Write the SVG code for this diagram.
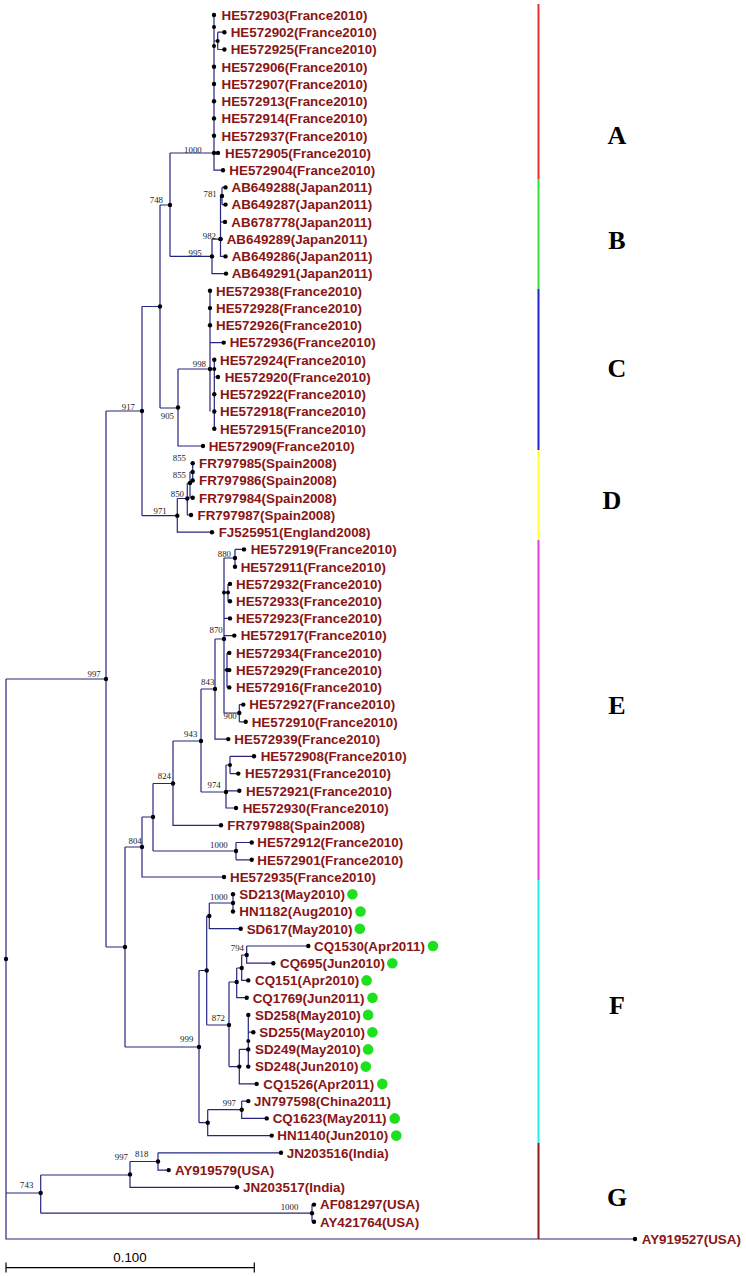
<svg xmlns="http://www.w3.org/2000/svg" width="746" height="1276" viewBox="0 0 746 1276">
<style>
.t{font-family:"Liberation Sans",Arial,sans-serif;font-weight:bold;font-size:13.4px;fill:#8a1515}
.b{font-family:"Liberation Serif","Times New Roman",serif;font-size:8.8px;fill:#222;text-anchor:end}
.br{fill:none;stroke:#262680;stroke-width:1.2}
.d{fill:#000}
.g{fill:#1fe01f}
.cl{font-family:"Liberation Serif","Times New Roman",serif;font-weight:bold;font-size:26px;fill:#000;text-anchor:middle}
.sc{font-family:"Liberation Sans",Arial,sans-serif;font-size:13.3px;fill:#000;text-anchor:middle}
.bar{fill:none;stroke-width:2}
</style>
<rect width="746" height="1276" fill="#fff"/>
<g id="connectors" class="br">
<path d="M6,679 V1239 H635 M6,679 H106 M6,1193 H40.7
M106,411 V947 M106,411 H142 M142,306.5 V515.7 M142,306.5 H160 M160,205 V408 M160,205 H170 M170,153 V256.4 M170,153 H214
M214,15 V170.2 H223 M214,41 H217.7 M217.7,32.2 V49.5 M217.7,32.2 H224.4 M217.7,49.5 H224.4 M214,152.9 H218
M170,256.4 H212 M212,239.1 V273.6 H226 M212,239.1 H220.5 M220.5,196 V256.4 H225.5 M220.5,196 H222 M222,187.4 V204.6 M222,187.4 H225.5 M222,204.6 H225.5 M220.5,221.9 H225
M160,408 H178 M178,369 V446 H203 M178,369 H210 M210,290.8 V411.5 M210,342.6 H223.7 M210,369 H214.3 M214.3,359.8 V428.8 M214.3,377 H218
M142,515.7 H177.3 M177.3,498.5 V532.2 H212 M177.3,498.5 H187.3 M187.3,483 V515 H191 M187.3,483 H190 M190,472 V497.7 H192.7 M190,472 H192.7 M192.7,463.2 V480.5
M106,947 H125 M125,847 V1047 M125,847 H142 M142,817 V877 H224 M142,817 H153 M153,783.5 V851 M153,851 H236 M236,842.5 V859.8 M236,842.5 H251.7 M236,859.8 H251.7
M153,783.5 H173 M173,741 V825.3 H221 M173,741 H201 M201,689 V792 M201,689 H215 M215,639 V739.1 H228.3 M215,639 H224
M224,558 V713 H239.3 M224,558 H235 M235,549.4 V566.7 M235,549.4 H244 M224,592.5 H228 M228,583.9 V601.2 M228,583.9 H230 M228,601.2 H230 M224,618.4 H230 M224,635.6 H234.3
M224,670 H227 M227,652.9 V687.4 M227,652.9 H229.3 M227,670.1 H229.3 M227,687.4 H229.3 M239.3,704.6 V721.8 M239.3,704.6 H243.3 M239.3,721.8 H245.7
M201,792 H226 M226,765 V808 H236 M226,765 H230 M230,756.3 V773.6 M230,756.3 H254 M230,773.6 H238.3 M226,790.8 H239.3
M125,1047 H199 M199,970.5 V1122.7 M199,970.5 H206.7 M206.7,916 V1025 M206.7,916 H209.3 M209.3,903 V928.7 H240.7 M209.3,903 H233 M233,894.2 V911.5
M206.7,1025 H229 M229,982 V1066.6 M229,982 H236.7 M236.7,968 V997.7 H246.7 M236.7,968 H241.7 M241.7,955 V980.4 H248.3 M241.7,955 H246.7 M246.7,946 V963.2 H273.3 M246.7,946 H308.3
M229,1066.6 H239.3 M239.3,1049.4 V1083.9 H256.7 M239.3,1049.4 H248.3 M248.3,1014.9 V1066.6 M248.3,1032.2 H253.3
M199,1122.7 H207.7 M207.7,1109.7 V1135.6 H271.7 M207.7,1109.7 H241.7 M241.7,1101.1 V1118.4 H266.7 M241.7,1101.1 H248.3
M40.7,1175 V1213.2 M40.7,1175 H130 M130,1161.5 V1187.3 H237 M130,1161.5 H158 M158,1152.8 V1170.1 H168.7 M158,1152.8 H281 M40.7,1213.2 H312 M312,1204.6 V1221.8 M312,1204.6 H314 M312,1221.8 H314"/>
</g>
<g id="internal-nodes">
<g id="n-root"><circle class="d" cx="6" cy="959" r="2.2"/></g>
<g id="n997a"><circle class="d" cx="106" cy="679" r="2.2"/><text class="b" x="100.7" y="676.7">997</text></g>
<g id="n917"><circle class="d" cx="142" cy="411" r="2.2"/><text class="b" x="135" y="410">917</text></g>
<g id="nAB"><circle class="d" cx="160" cy="306.5" r="2.2"/></g>
<g id="n748"><circle class="d" cx="170" cy="205" r="2.2"/><text class="b" x="163" y="203">748</text></g>
<g id="n1000a"><circle class="d" cx="214" cy="152.9" r="2.2"/><text class="b" x="201.7" y="152.5">1000</text></g>
<g id="nA2"><circle class="d" cx="214" cy="27" r="2"/><circle class="d" cx="214" cy="46" r="2"/><circle class="d" cx="217.7" cy="41" r="2"/></g>
<g id="n995"><circle class="d" cx="212" cy="256.4" r="2.2"/><text class="b" x="201.7" y="255.7">995</text></g>
<g id="n982"><circle class="d" cx="220.5" cy="239.1" r="2.2"/><text class="b" x="216" y="239">982</text></g>
<g id="n781"><circle class="d" cx="222" cy="196" r="2.2"/><text class="b" x="216.7" y="196.7">781</text></g>
<g id="n905"><circle class="d" cx="178" cy="407.5" r="2.2"/><text class="b" x="174" y="419.3">905</text></g>
<g id="n998"><circle class="d" cx="210" cy="369" r="2.2"/><circle class="d" cx="214.3" cy="369" r="2"/><text class="b" x="206" y="367.3">998</text></g>
<g id="n971"><circle class="d" cx="177.3" cy="515.7" r="2.2"/><text class="b" x="166.7" y="514">971</text></g>
<g id="n850"><circle class="d" cx="187.3" cy="498.5" r="2.2"/><text class="b" x="184" y="496.7">850</text></g>
<g id="n855b"><circle class="d" cx="190" cy="483" r="2.2"/><text class="b" x="186" y="478.3">855</text></g>
<g id="n855a"><circle class="d" cx="192.7" cy="472" r="2.2"/><text class="b" x="186" y="461">855</text></g>
<g id="nR"><circle class="d" cx="125" cy="947" r="2.2"/></g>
<g id="n804"><circle class="d" cx="142" cy="847" r="2.2"/><text class="b" x="141.7" y="844">804</text></g>
<g id="nQ"><circle class="d" cx="153" cy="817" r="2.2"/></g>
<g id="n1000e"><circle class="d" cx="236" cy="851" r="2.2"/><text class="b" x="227.7" y="848.3">1000</text></g>
<g id="n824"><circle class="d" cx="173" cy="783.5" r="2.2"/><text class="b" x="171" y="779.3">824</text></g>
<g id="n943"><circle class="d" cx="201" cy="741" r="2.2"/><text class="b" x="197.3" y="736.7">943</text></g>
<g id="n843"><circle class="d" cx="215" cy="689" r="2.2"/><text class="b" x="214.3" y="685">843</text></g>
<g id="n870"><circle class="d" cx="224" cy="639" r="2.2"/><text class="b" x="222.7" y="633.3">870</text></g>
<g id="n880"><circle class="d" cx="235" cy="558" r="2.2"/><text class="b" x="231" y="556.7">880</text></g>
<g id="nE2"><circle class="d" cx="224" cy="592.5" r="2"/><circle class="d" cx="228" cy="592.5" r="2"/><circle class="d" cx="227" cy="670" r="2"/></g>
<g id="n900"><circle class="d" cx="239.3" cy="713" r="2.2"/><text class="b" x="236.7" y="719.3">900</text></g>
<g id="n974"><circle class="d" cx="226" cy="792" r="2.2"/><circle class="d" cx="230" cy="765" r="2"/><text class="b" x="220.7" y="788.3">974</text></g>
<g id="n999"><circle class="d" cx="199" cy="1047" r="2.2"/><text class="b" x="193.3" y="1041.7">999</text></g>
<g id="nF1"><circle class="d" cx="206.7" cy="970.5" r="2.2"/><circle class="d" cx="209.3" cy="916" r="2.2"/></g>
<g id="n1000f"><circle class="d" cx="233" cy="903" r="2.2"/><text class="b" x="227.7" y="900">1000</text></g>
<g id="n872"><circle class="d" cx="229" cy="1025" r="2.2"/><text class="b" x="225" y="1020.7">872</text></g>
<g id="nF2"><circle class="d" cx="236.7" cy="982" r="2.2"/><circle class="d" cx="241.7" cy="968" r="2.2"/><circle class="d" cx="239.3" cy="1066.6" r="2.2"/><circle class="d" cx="248.3" cy="1041" r="2"/></g>
<g id="n794"><circle class="d" cx="246.7" cy="955" r="2.2"/><text class="b" x="244" y="951">794</text></g>
<g id="nF3"><circle class="d" cx="207.7" cy="1122.7" r="2.2"/></g>
<g id="n997f"><circle class="d" cx="241.7" cy="1109.7" r="2.2"/><text class="b" x="236" y="1105.7">997</text></g>
<g id="n743"><circle class="d" cx="40.7" cy="1193" r="2.2"/><text class="b" x="33.3" y="1188.3">743</text></g>
<g id="n997g"><circle class="d" cx="130" cy="1174.4" r="2.2"/><text class="b" x="128" y="1159.5">997</text></g>
<g id="n818"><circle class="d" cx="158" cy="1161.5" r="2.2"/><text class="b" x="148.3" y="1157.3">818</text></g>
<g id="n1000g"><circle class="d" cx="312" cy="1213.2" r="2.2"/><text class="b" x="298.3" y="1210">1000</text></g>
</g>
<g id="leaves">
<g id="l0"><circle class="d" cx="214" cy="15" r="2.2"/><text class="t" x="221.5" y="19.8">HE572903(France2010)</text></g>
<g id="l1"><circle class="d" cx="224.4" cy="32.2" r="2.2"/><text class="t" x="230.7" y="37">HE572902(France2010)</text></g>
<g id="l2"><circle class="d" cx="224.4" cy="49.5" r="2.2"/><text class="t" x="230.7" y="54.3">HE572925(France2010)</text></g>
<g id="l3"><circle class="d" cx="214" cy="66.7" r="2.2"/><text class="t" x="221.5" y="71.5">HE572906(France2010)</text></g>
<g id="l4"><circle class="d" cx="214" cy="84" r="2.2"/><text class="t" x="221.5" y="88.8">HE572907(France2010)</text></g>
<g id="l5"><circle class="d" cx="214" cy="101.2" r="2.2"/><text class="t" x="221.5" y="106">HE572913(France2010)</text></g>
<g id="l6"><circle class="d" cx="214" cy="118.4" r="2.2"/><text class="t" x="221.5" y="123.2">HE572914(France2010)</text></g>
<g id="l7"><circle class="d" cx="214" cy="135.7" r="2.2"/><text class="t" x="221.5" y="140.5">HE572937(France2010)</text></g>
<g id="l8"><circle class="d" cx="218" cy="152.9" r="2.2"/><text class="t" x="225" y="157.7">HE572905(France2010)</text></g>
<g id="l9"><circle class="d" cx="223" cy="170.2" r="2.2"/><text class="t" x="229.3" y="175">HE572904(France2010)</text></g>
<g id="l10"><circle class="d" cx="225.5" cy="187.4" r="2.2"/><text class="t" x="231.5" y="192.2">AB649288(Japan2011)</text></g>
<g id="l11"><circle class="d" cx="225.5" cy="204.6" r="2.2"/><text class="t" x="231.5" y="209.4">AB649287(Japan2011)</text></g>
<g id="l12"><circle class="d" cx="225" cy="221.9" r="2.2"/><text class="t" x="231.3" y="226.7">AB678778(Japan2011)</text></g>
<g id="l13"><circle class="d" cx="220.5" cy="239.1" r="2.2"/><text class="t" x="226.7" y="243.9">AB649289(Japan2011)</text></g>
<g id="l14"><circle class="d" cx="225.5" cy="256.4" r="2.2"/><text class="t" x="231.7" y="261.2">AB649286(Japan2011)</text></g>
<g id="l15"><circle class="d" cx="226" cy="273.6" r="2.2"/><text class="t" x="231.7" y="278.4">AB649291(Japan2011)</text></g>
<g id="l16"><circle class="d" cx="210" cy="290.8" r="2.2"/><text class="t" x="216" y="295.6">HE572938(France2010)</text></g>
<g id="l17"><circle class="d" cx="210" cy="308.1" r="2.2"/><text class="t" x="216" y="312.9">HE572928(France2010)</text></g>
<g id="l18"><circle class="d" cx="210" cy="325.3" r="2.2"/><text class="t" x="216" y="330.1">HE572926(France2010)</text></g>
<g id="l19"><circle class="d" cx="223.7" cy="342.6" r="2.2"/><text class="t" x="229.7" y="347.4">HE572936(France2010)</text></g>
<g id="l20"><circle class="d" cx="214.3" cy="359.8" r="2.2"/><text class="t" x="220" y="364.6">HE572924(France2010)</text></g>
<g id="l21"><circle class="d" cx="218" cy="377" r="2.2"/><text class="t" x="224.7" y="381.8">HE572920(France2010)</text></g>
<g id="l22"><circle class="d" cx="214.3" cy="394.3" r="2.2"/><text class="t" x="220" y="399.1">HE572922(France2010)</text></g>
<g id="l23"><circle class="d" cx="214.3" cy="411.5" r="2.2"/><text class="t" x="220" y="416.3">HE572918(France2010)</text></g>
<g id="l24"><circle class="d" cx="214.3" cy="428.8" r="2.2"/><text class="t" x="220" y="433.6">HE572915(France2010)</text></g>
<g id="l25"><circle class="d" cx="203" cy="446" r="2.2"/><text class="t" x="208.7" y="450.8">HE572909(France2010)</text></g>
<g id="l26"><circle class="d" cx="192.7" cy="463.2" r="2.2"/><text class="t" x="199" y="468">FR797985(Spain2008)</text></g>
<g id="l27"><circle class="d" cx="192.7" cy="480.5" r="2.2"/><text class="t" x="199" y="485.3">FR797986(Spain2008)</text></g>
<g id="l28"><circle class="d" cx="192.7" cy="497.7" r="2.2"/><text class="t" x="199" y="502.5">FR797984(Spain2008)</text></g>
<g id="l29"><circle class="d" cx="191" cy="515" r="2.2"/><text class="t" x="197.5" y="519.8">FR797987(Spain2008)</text></g>
<g id="l30"><circle class="d" cx="212" cy="532.2" r="2.2"/><text class="t" x="218.7" y="537">FJ525951(England2008)</text></g>
<g id="l31"><circle class="d" cx="244" cy="549.4" r="2.2"/><text class="t" x="250.7" y="554.2">HE572919(France2010)</text></g>
<g id="l32"><circle class="d" cx="235" cy="566.7" r="2.2"/><text class="t" x="240.7" y="571.5">HE572911(France2010)</text></g>
<g id="l33"><circle class="d" cx="230" cy="583.9" r="2.2"/><text class="t" x="236" y="588.7">HE572932(France2010)</text></g>
<g id="l34"><circle class="d" cx="230" cy="601.2" r="2.2"/><text class="t" x="236" y="606">HE572933(France2010)</text></g>
<g id="l35"><circle class="d" cx="230" cy="618.4" r="2.2"/><text class="t" x="236" y="623.2">HE572923(France2010)</text></g>
<g id="l36"><circle class="d" cx="234.3" cy="635.6" r="2.2"/><text class="t" x="240.7" y="640.4">HE572917(France2010)</text></g>
<g id="l37"><circle class="d" cx="229.3" cy="652.9" r="2.2"/><text class="t" x="236" y="657.7">HE572934(France2010)</text></g>
<g id="l38"><circle class="d" cx="229.3" cy="670.1" r="2.2"/><text class="t" x="236" y="674.9">HE572929(France2010)</text></g>
<g id="l39"><circle class="d" cx="229.3" cy="687.4" r="2.2"/><text class="t" x="236" y="692.2">HE572916(France2010)</text></g>
<g id="l40"><circle class="d" cx="243.3" cy="704.6" r="2.2"/><text class="t" x="249.3" y="709.4">HE572927(France2010)</text></g>
<g id="l41"><circle class="d" cx="245.7" cy="721.8" r="2.2"/><text class="t" x="251.7" y="726.6">HE572910(France2010)</text></g>
<g id="l42"><circle class="d" cx="228.3" cy="739.1" r="2.2"/><text class="t" x="234.3" y="743.9">HE572939(France2010)</text></g>
<g id="l43"><circle class="d" cx="254" cy="756.3" r="2.2"/><text class="t" x="260.7" y="761.1">HE572908(France2010)</text></g>
<g id="l44"><circle class="d" cx="238.3" cy="773.6" r="2.2"/><text class="t" x="245" y="778.4">HE572931(France2010)</text></g>
<g id="l45"><circle class="d" cx="239.3" cy="790.8" r="2.2"/><text class="t" x="246" y="795.6">HE572921(France2010)</text></g>
<g id="l46"><circle class="d" cx="236" cy="808" r="2.2"/><text class="t" x="242.7" y="812.8">HE572930(France2010)</text></g>
<g id="l47"><circle class="d" cx="221" cy="825.3" r="2.2"/><text class="t" x="227.3" y="830.1">FR797988(Spain2008)</text></g>
<g id="l48"><circle class="d" cx="251.7" cy="842.5" r="2.2"/><text class="t" x="257.3" y="847.3">HE572912(France2010)</text></g>
<g id="l49"><circle class="d" cx="251.7" cy="859.8" r="2.2"/><text class="t" x="257.3" y="864.6">HE572901(France2010)</text></g>
<g id="l50"><circle class="d" cx="224" cy="877" r="2.2"/><text class="t" x="230" y="881.8">HE572935(France2010)</text></g>
<g id="l51"><circle class="d" cx="233" cy="894.2" r="2.2"/><text class="t" x="239.3" y="899">SD213(May2010)</text><circle class="g" cx="352.4" cy="894.2" r="5.3"/></g>
<g id="l52"><circle class="d" cx="233" cy="911.5" r="2.2"/><text class="t" x="239.3" y="916.3">HN1182(Aug2010)</text><circle class="g" cx="360.5" cy="911.5" r="5.3"/></g>
<g id="l53"><circle class="d" cx="240.7" cy="928.7" r="2.2"/><text class="t" x="246.7" y="933.5">SD617(May2010)</text><circle class="g" cx="359.8" cy="928.7" r="5.3"/></g>
<g id="l54"><circle class="d" cx="308.3" cy="946" r="2.2"/><text class="t" x="314" y="950.8">CQ1530(Apr2011)</text><circle class="g" cx="433" cy="946" r="5.3"/></g>
<g id="l55"><circle class="d" cx="273.3" cy="963.2" r="2.2"/><text class="t" x="280" y="968">CQ695(Jun2010)</text><circle class="g" cx="392.3" cy="963.2" r="5.3"/></g>
<g id="l56"><circle class="d" cx="248.3" cy="980.4" r="2.2"/><text class="t" x="255" y="985.2">CQ151(Apr2010)</text><circle class="g" cx="366.6" cy="980.4" r="5.3"/></g>
<g id="l57"><circle class="d" cx="246.7" cy="997.7" r="2.2"/><text class="t" x="252.7" y="1002.5">CQ1769(Jun2011)</text><circle class="g" cx="372.5" cy="997.7" r="5.3"/></g>
<g id="l58"><circle class="d" cx="248.3" cy="1014.9" r="2.2"/><text class="t" x="255" y="1019.7">SD258(May2010)</text><circle class="g" cx="368.1" cy="1014.9" r="5.3"/></g>
<g id="l59"><circle class="d" cx="253.3" cy="1032.2" r="2.2"/><text class="t" x="259.3" y="1037">SD255(May2010)</text><circle class="g" cx="372.4" cy="1032.2" r="5.3"/></g>
<g id="l60"><circle class="d" cx="248.3" cy="1049.4" r="2.2"/><text class="t" x="255" y="1054.2">SD249(May2010)</text><circle class="g" cx="368.1" cy="1049.4" r="5.3"/></g>
<g id="l61"><circle class="d" cx="248.3" cy="1066.6" r="2.2"/><text class="t" x="255" y="1071.4">SD248(Jun2010)</text><circle class="g" cx="365.8" cy="1066.6" r="5.3"/></g>
<g id="l62"><circle class="d" cx="256.7" cy="1083.9" r="2.2"/><text class="t" x="263.3" y="1088.7">CQ1526(Apr2011)</text><circle class="g" cx="382.3" cy="1083.9" r="5.3"/></g>
<g id="l63"><circle class="d" cx="248.3" cy="1101.1" r="2.2"/><text class="t" x="254" y="1105.9">JN797598(China2011)</text></g>
<g id="l64"><circle class="d" cx="266.7" cy="1118.4" r="2.2"/><text class="t" x="272.7" y="1123.2">CQ1623(May2011)</text><circle class="g" cx="394.7" cy="1118.4" r="5.3"/></g>
<g id="l65"><circle class="d" cx="271.7" cy="1135.6" r="2.2"/><text class="t" x="277.3" y="1140.4">HN1140(Jun2010)</text><circle class="g" cx="396.3" cy="1135.6" r="5.3"/></g>
<g id="l66"><circle class="d" cx="281" cy="1152.8" r="2.2"/><text class="t" x="286.7" y="1157.6">JN203516(India)</text></g>
<g id="l67"><circle class="d" cx="168.7" cy="1170.1" r="2.2"/><text class="t" x="175" y="1174.9">AY919579(USA)</text></g>
<g id="l68"><circle class="d" cx="237" cy="1187.3" r="2.2"/><text class="t" x="243" y="1192.1">JN203517(India)</text></g>
<g id="l69"><circle class="d" cx="314" cy="1204.6" r="2.2"/><text class="t" x="320" y="1209.4">AF081297(USA)</text></g>
<g id="l70"><circle class="d" cx="314" cy="1221.8" r="2.2"/><text class="t" x="320" y="1226.6">AY421764(USA)</text></g>
<g id="l71"><circle class="d" cx="635" cy="1239" r="2.2"/><text class="t" x="641.7" y="1243.8">AY919527(USA)</text></g>
</g>
<g id="clusters">
<line class="bar" x1="538.5" y1="4" x2="538.5" y2="179" stroke="#e53030"/>
<line class="bar" x1="538.5" y1="179" x2="538.5" y2="289" stroke="#33e033"/>
<line class="bar" x1="538.5" y1="289" x2="538.5" y2="450" stroke="#2222cc"/>
<line class="bar" x1="538.5" y1="450" x2="538.5" y2="540" stroke="#ffff33"/>
<line class="bar" x1="538.5" y1="540" x2="538.5" y2="880" stroke="#e040e0"/>
<line class="bar" x1="538.5" y1="880" x2="538.5" y2="1143" stroke="#22eeee"/>
<line class="bar" x1="538.5" y1="1143" x2="538.5" y2="1239" stroke="#8b1a1a"/>
<text class="cl" x="617" y="144">A</text>
<text class="cl" x="617" y="249">B</text>
<text class="cl" x="617" y="377">C</text>
<text class="cl" x="612" y="509">D</text>
<text class="cl" x="617" y="714">E</text>
<text class="cl" x="617" y="1014">F</text>
<text class="cl" x="617" y="1206">G</text>
</g>
<g id="scale">
<path d="M6,1267.7 H254.3 M6,1262.5 V1272.5 M254.3,1262.5 V1272.5" fill="none" stroke="#000" stroke-width="1.2"/>
<text class="sc" x="130" y="1261.5">0.100</text>
</g>
</svg>
